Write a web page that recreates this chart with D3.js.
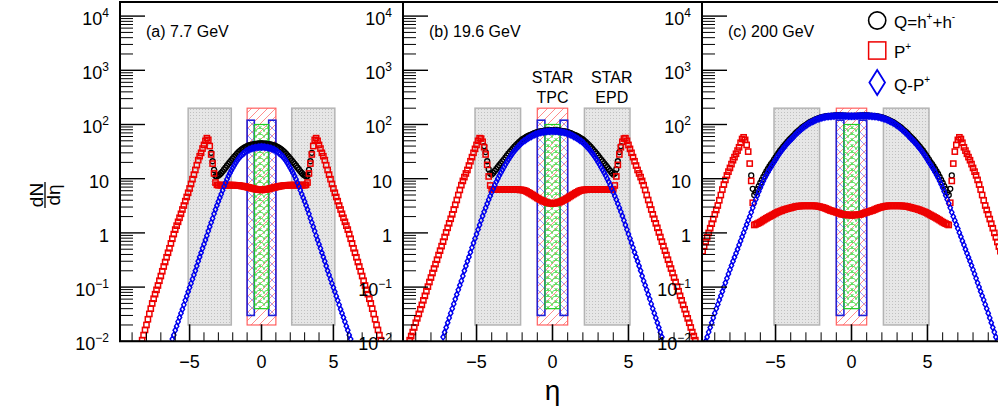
<!DOCTYPE html>
<html><head><meta charset="utf-8">
<script src="https://cdn.jsdelivr.net/npm/d3@7"></script>
<style>body{margin:0;background:#fff}svg{display:block}text{font-family:"Liberation Sans",Arial,Helvetica,sans-serif}</style>
</head><body><svg id="c" width="998" height="413"></svg>
<script>
// ---------------- data ----------------
const panelLabels = ["(a) 7.7 GeV", "(b) 19.6 GeV", "(c) 200 GeV"];
const etaStep = 0.1;
const etaMajorTicks = [-5, 0, 5];
const etaTickLabels = ["\u22125", "0", "5"];
const etaMinorTicks = [-9,-8,-7,-6,-4,-3,-2,-1,1,2,3,4,6,7,8,9];
const yTickExps = [-2, -1, 0, 1, 2, 3, 4];
const legendLabels = ["Q=h", "P", "Q-P"];
const epdEta = [[-5.1, -2.1], [2.1, 5.1]];
const epdY = [0.02, 200];
const tpcEta = [-1, 1];
const tpcY = [0.02, 200];
const blueBoxEta = [[-1, -0.5], [0.5, 1]];
const blueBoxY = [0.03, 120];
const greenBoxEta = [-0.5, 0.5];
const greenBoxY = [0.04, 100];

// first-bin eta of each series (Q, P+, Q-P+) per panel
const qStart = [-3.5, -4.5, -6.6];
const pStart = [-8.3, -9.4, -9.8];
const dStart = [-6.2, -7.2, -9.6];

// ---- 7.7 GeV ----
const p77 = [0.0105,0.013,0.0162,0.020,0.0255,0.032,0.040,0.050,0.061,0.074,
0.089,0.107,0.131,0.16,0.196,0.24,0.29,0.355,0.43,0.52,
0.64,0.78,0.95,1.15,1.36,1.6,1.9,2.25,2.7,3.2,
3.85,4.6,5.5,6.6,8.0,9.8,11.9,14.5,17.8,22,
26,30,36,42,50,56,52,40,28,19,
12.5,8.5,7.7,7.6,7.6,7.6,7.6,7.6,7.6,7.6,
7.6,7.6,7.6,7.6,7.6,7.55,7.52,7.5,7.43,7.35,
7.28,7.2,7.1,7.0,6.9,6.8,6.7,6.6,6.5,6.4,
6.35,6.3,6.25,
6.2,
6.25,6.3,6.35,
6.4,6.5,6.6,6.7,6.8,6.9,7.0,7.1,7.2,7.28,
7.35,7.43,7.5,7.52,7.55,7.6,7.6,7.6,7.6,7.6,
7.6,7.6,7.6,7.6,7.6,7.6,7.6,7.7,8.5,12.5,
19,28,40,52,56,50,42,36,30,26,
22,17.8,14.5,11.9,9.8,8.0,6.6,5.5,4.6,3.85,
3.2,2.7,2.25,1.9,1.6,1.36,1.15,0.95,0.78,0.64,
0.52,0.43,0.355,0.29,0.24,0.196,0.16,0.131,0.107,0.089,
0.074,0.061,0.050,0.040,0.032,0.0255,0.020,0.0162,0.013,0.0105];
const q77 = [30,21,14.5,11.2,11.1,11.4,12.0,12.8,13.7,14.8,
16.0,17.4,18.8,20.2,21.8,23.4,25.2,27,29,30.9,
32.7,34.4,35.9,37.2,38.7,40,41,41.8,42.5,43.1,
43.5,43.9,44.2,44.5,44.6,
44.7,
44.6,44.5,44.2,43.9,43.5,
43.1,42.5,41.8,41,40,38.7,37.2,35.9,34.4,32.7,
30.9,29,27,25.2,23.4,21.8,20.2,18.8,17.4,16.0,
14.8,13.7,12.8,12.0,11.4,11.1,11.2,14.5,21,30];
const d77 = [0.011,0.013,0.016,0.019,0.023,0.0275,0.033,0.039,0.047,0.057,
0.068,0.082,0.098,0.117,0.14,0.168,0.20,0.245,0.30,0.36,
0.43,0.52,0.62,0.74,0.89,1.08,1.3,1.55,1.85,2.25,
2.7,3.2,3.8,4.45,5.2,6.1,7.2,8.4,9.8,11.2,
12.6,14.2,15.8,17.6,19.5,21.5,23.4,25.3,27,28.6,
30,31.6,33,34,35,35.8,36.5,37,37.5,37.9,
38.2,38.4,
38.5,
38.4,38.2,
37.9,37.5,37,36.5,35.8,35,34,33,31.6,30,
28.6,27,25.3,23.4,21.5,19.5,17.6,15.8,14.2,12.6,
11.2,9.8,8.4,7.2,6.1,5.2,4.45,3.8,3.2,2.7,
2.25,1.85,1.55,1.3,1.08,0.89,0.74,0.62,0.52,0.43,
0.36,0.30,0.245,0.20,0.168,0.14,0.117,0.098,0.082,0.068,
0.057,0.047,0.039,0.033,0.0275,0.023,0.019,0.016,0.013,0.011];

// ---- 19.6 GeV ----
const p19 = [0.0105,0.0125,0.0148,0.018,0.022,0.0265,0.032,0.039,0.047,0.057,
0.069,0.084,0.102,0.124,0.15,0.182,0.22,0.265,0.32,0.39,
0.47,0.57,0.69,0.84,1.02,1.24,1.5,1.82,2.2,2.7,
3.3,4.05,5.0,6.2,7.6,9.1,10.7,12.5,14.5,17.5,
21,25,30,35.5,42,50,56,55,48,38,
28,18,11,7.5,6.4,6.3,6.3,6.3,6.3,6.3,
6.3,6.3,6.3,6.3,6.3,6.3,6.3,6.3,6.3,6.3,
6.3,6.3,6.25,6.22,6.2,6.1,6.0,5.8,5.6,5.4,
5.2,5.0,4.8,4.6,4.4,4.25,4.1,3.97,3.85,3.75,
3.65,3.6,3.55,3.52,
3.5,
3.52,3.55,3.6,3.65,
3.75,3.85,3.97,4.1,4.25,4.4,4.6,4.8,5.0,5.2,
5.4,5.6,5.8,6.0,6.1,6.2,6.22,6.25,6.3,6.3,
6.3,6.3,6.3,6.3,6.3,6.3,6.3,6.3,6.3,6.3,
6.3,6.3,6.3,6.3,6.3,6.4,7.5,11,18,28,
38,48,55,56,50,42,35.5,30,25,21,
17.5,14.5,12.5,10.7,9.1,7.6,6.2,5.0,4.05,3.3,
2.7,2.2,1.82,1.5,1.24,1.02,0.84,0.69,0.57,0.47,
0.39,0.32,0.265,0.22,0.182,0.15,0.124,0.102,0.084,0.069,
0.057,0.047,0.039,0.032,0.0265,0.022,0.018,0.0148,0.0125,0.0105];
const q19 = [40,31,21,15,12.5,11.9,12.8,13.9,15,16.3,
17.7,19.2,20.8,22.5,24.5,26.7,29,31.3,33.8,36.3,
39,41.8,44.4,47,50,52.9,55,57,59.4,61.6,
63.4,65.2,67.3,69.3,70.7,72,73.5,74.9,75.6,76.2,
76.9,77.6,78.1,78.5,78.8,
79,
78.8,78.5,78.1,77.6,76.9,
76.2,75.6,74.9,73.5,72,70.7,69.3,67.3,65.2,63.4,
61.6,59.4,57,55,52.9,50,47,44.4,41.8,39,
36.3,33.8,31.3,29,26.7,24.5,22.5,20.8,19.2,17.7,
16.3,15,13.9,12.8,11.9,12.5,15,21,31,40];
const d19 = [0.012,0.0147,0.018,0.022,0.027,0.033,0.040,0.049,0.060,0.073,
0.089,0.108,0.13,0.16,0.20,0.245,0.30,0.36,0.44,0.535,
0.65,0.79,0.95,1.15,1.4,1.7,2.05,2.45,2.9,3.45,
4.1,4.8,5.6,6.55,7.6,8.75,10,11.4,12.9,14.5,
16.2,18.2,20.4,22.6,25,27.5,30,32.7,35.5,38,
40.7,43.7,46.7,49,51,53.5,56,58,60,62.3,
64.5,66,67.6,69.2,70.8,71.6,72.4,73.2,74,74.5,
75,75.2,
75.3,
75.2,75,
74.5,74,73.2,72.4,71.6,70.8,69.2,67.6,66,64.5,
62.3,60,58,56,53.5,51,49,46.7,43.7,40.7,
38,35.5,32.7,30,27.5,25,22.6,20.4,18.2,16.2,
14.5,12.9,11.4,10,8.75,7.6,6.55,5.6,4.8,4.1,
3.45,2.9,2.45,2.05,1.7,1.4,1.15,0.95,0.79,0.65,
0.535,0.44,0.36,0.30,0.245,0.20,0.16,0.13,0.108,0.089,
0.073,0.060,0.049,0.040,0.033,0.027,0.022,0.018,0.0147,0.012];

// ---- 200 GeV ----
const p200 = [0.46,0.56,0.68,0.83,1.0,1.22,1.48,1.8,2.2,2.65,
3.2,4.0,5.0,6.3,7.8,9.5,11.5,13.5,15.8,18.6,
21.9,25,28.8,33,38,46,54,58,52,42,
31.6,19,9.1,3.6,1.4,1.44,1.48,1.53,1.58,1.65,
1.72,1.79,1.86,1.93,2.0,2.07,2.14,2.22,2.3,2.38,
2.45,2.51,2.57,2.64,2.7,2.75,2.8,2.85,2.9,2.95,
3.0,3.05,3.1,3.12,3.13,3.15,3.16,3.16,3.16,3.16,
3.16,3.16,3.16,3.16,3.15,3.13,3.1,3.05,3.0,2.95,
2.9,2.82,2.75,2.67,2.6,2.55,2.5,2.45,2.4,2.35,
2.3,2.25,2.2,2.18,2.16,2.15,2.14,2.13,
2.13,
2.13,2.14,2.15,2.16,2.18,2.2,2.25,2.3,
2.35,2.4,2.45,2.5,2.55,2.6,2.67,2.75,2.82,2.9,
2.95,3.0,3.05,3.1,3.13,3.15,3.16,3.16,3.16,3.16,
3.16,3.16,3.16,3.16,3.15,3.13,3.12,3.1,3.05,3.0,
2.95,2.9,2.85,2.8,2.75,2.7,2.64,2.57,2.51,2.45,
2.38,2.3,2.22,2.14,2.07,2.0,1.93,1.86,1.79,1.72,
1.65,1.58,1.53,1.48,1.44,1.4,3.6,9.1,19,31.6,
42,52,58,54,46,38,33,28.8,25,21.9,
18.6,15.8,13.5,11.5,9.5,7.8,6.3,5.0,4.0,3.2,
2.65,2.2,1.8,1.48,1.22,1.0,0.83,0.68,0.56,0.46];
const q200 = [11.5,6.5,5.0,5.6,6.4,7.3,8.4,9.5,10.8,12.2,
13.6,15.1,16.8,18.5,20.3,22.4,24.7,27.3,30,32.8,
35.6,38.6,41.7,45,48.5,51.9,55.4,59,63,67.5,
72,76.3,80.7,85.5,90.2,94.5,98.7,103,108,111.5,
115,119,123,126,129,132,135,137,139,141,
142.7,143.2,143.6,144.6,145.5,146.3,147,147,146.8,146.5,
146.2,145.7,145.2,144.7,144.1,144.1,
144.1,
144.1,144.1,144.7,145.2,145.7,146.2,
146.5,146.8,147,147,146.3,145.5,144.6,143.6,143.2,142.7,
141,139,137,135,132,129,126,123,119,115,
111.5,108,103,98.7,94.5,90.2,85.5,80.7,76.3,72,
67.5,63,59,55.4,51.9,48.5,45,41.7,38.6,35.6,
32.8,30,27.3,24.7,22.4,20.3,18.5,16.8,15.1,13.6,
12.2,10.8,9.5,8.4,7.3,6.4,5.6,5.0,6.5,11.5];
const d200 = [0.010,0.012,0.0148,0.018,0.022,0.027,0.033,0.040,0.048,0.058,
0.069,0.083,0.10,0.12,0.145,0.175,0.21,0.25,0.30,0.355,
0.42,0.50,0.60,0.71,0.85,1.01,1.2,1.43,1.7,2.0,
2.4,2.9,3.5,4.15,4.9,5.8,6.8,7.9,9.1,10.4,
11.7,13.2,14.8,16.4,18.2,20.2,22.4,24.9,27.5,30.2,
33,36,39,42.3,45.7,49,52.5,56,60,64.5,
69,73.2,77.6,82.2,87,91.2,95.5,100,105,108.5,
112,116,120,123,126,129,132,134,136,138,
140,140.5,141,142,143,143.8,144.5,144.5,144.5,144.3,
144,143.5,143,142.5,142,142,
142,
142,142,142.5,143,143.5,144,
144.3,144.5,144.5,144.5,143.8,143,142,141,140.5,140,
138,136,134,132,129,126,123,120,116,112,
108.5,105,100,95.5,91.2,87,82.2,77.6,73.2,69,
64.5,60,56,52.5,49,45.7,42.3,39,36,33,
30.2,27.5,24.9,22.4,20.2,18.2,16.4,14.8,13.2,11.7,
10.4,9.1,7.9,6.8,5.8,4.9,4.15,3.5,2.9,2.4,
2.0,1.7,1.43,1.2,1.01,0.85,0.71,0.60,0.50,0.42,
0.355,0.30,0.25,0.21,0.175,0.145,0.12,0.10,0.083,0.069,
0.058,0.048,0.040,0.033,0.027,0.022,0.018,0.0148,0.012,0.010];

const qSeries = [q77, q19, q200];
const pSeries = [p77, p19, p200];
const dSeries = [d77, d19, d200];

// ---------------- layout ----------------
const panelX = [[120, 403], [403, 702], [702, 1001]];
const yTop = 2, yBot = 341.3;
const etaDomain = [-9.84, 9.84];
const yDomain = [0.01, Math.pow(10, 4.26)];

const svg = d3.select("#c");
svg.append("rect").attr("width", 998).attr("height", 413).attr("fill", "#fff");
const defs = svg.append("defs");
function pat(id, w, h) {
  return defs.append("pattern").attr("id", id).attr("patternUnits", "userSpaceOnUse")
    .attr("width", w).attr("height", h);
}
const pd = pat("dots", 3, 3);
pd.append("rect").attr("width", 3).attr("height", 3).attr("fill", "#e6e6e6");
pd.append("rect").attr("x", 1).attr("y", 1).attr("width", 1).attr("height", 1).attr("fill", "#c0c0c0");
const pr = pat("hr", 8, 8);
pr.append("path").attr("d", "M0,8L8,0M-1,1L1,-1M7,9L9,7").attr("stroke", "#ff8080").attr("stroke-width", 0.9);
const pb = pat("hb", 8, 8);
pb.append("path").attr("d", "M0,0L8,8M-1,7L1,9M7,-1L9,1").attr("stroke", "#8c8cff").attr("stroke-width", 0.9);
const pgn = pat("hg", 8, 6);
pgn.append("path").attr("d", "M0,6A4,4 0 0 1 8,6M-4,3A4,4 0 0 1 4,3M4,3A4,4 0 0 1 12,3")
  .attr("fill", "none").attr("stroke", "#55e055").attr("stroke-width", 0.9);

const y = d3.scaleLog().domain(yDomain).range([yBot, yTop]);
const labelLayer = [];

panelX.forEach(([x0, x1], k) => {
  const x = d3.scaleLinear().domain(etaDomain).range([x0, x1]);
  defs.append("clipPath").attr("id", "clip" + k).append("rect")
    .attr("x", x0).attr("y", yTop).attr("width", x1 - x0).attr("height", yBot - yTop);
  const g = svg.append("g").attr("clip-path", `url(#clip${k})`);

  epdEta.forEach(([a, b]) => {
    g.append("rect").attr("x", x(a)).attr("y", y(epdY[1])).attr("width", x(b) - x(a))
      .attr("height", y(epdY[0]) - y(epdY[1])).attr("fill", "url(#dots)")
      .attr("stroke", "#b4b4b4").attr("stroke-width", 1.5);
  });
  g.append("rect").attr("x", x(tpcEta[0])).attr("y", y(tpcY[1])).attr("width", x(tpcEta[1]) - x(tpcEta[0]))
    .attr("height", y(tpcY[0]) - y(tpcY[1])).attr("fill", "url(#hr)")
    .attr("stroke", "#ff6060").attr("stroke-width", 1.2);
  blueBoxEta.forEach(([a, b]) => {
    g.append("rect").attr("x", x(a)).attr("y", y(blueBoxY[1])).attr("width", x(b) - x(a))
      .attr("height", y(blueBoxY[0]) - y(blueBoxY[1])).attr("fill", "url(#hb)")
      .attr("stroke", "#2020d8").attr("stroke-width", 1.6);
  });
  g.append("rect").attr("x", x(greenBoxEta[0])).attr("y", y(greenBoxY[1])).attr("width", x(greenBoxEta[1]) - x(greenBoxEta[0]))
    .attr("height", y(greenBoxY[0]) - y(greenBoxY[1])).attr("fill", "url(#hg)")
    .attr("stroke", "#22cc22").attr("stroke-width", 1.2);

  const toPts = (arr, s) => arr.map((v, i) => ({ eta: +(s + i * etaStep).toFixed(2), v }));
  const qP = toPts(qSeries[k], qStart[k]);
  const pP = toPts(pSeries[k], pStart[k]);
  const dP = toPts(dSeries[k], dStart[k]);

  g.selectAll(null).data(qP).join("circle")
    .attr("cx", d => x(d.eta)).attr("cy", d => y(d.v)).attr("r", 2.5)
    .attr("fill", "none").attr("stroke", "#000").attr("stroke-width", 1.3);
  g.selectAll(null).data(pP).join("rect")
    .attr("x", d => x(d.eta) - 2.6).attr("y", d => y(d.v) - 2.6).attr("width", 5.2).attr("height", 5.2)
    .attr("fill", "none").attr("stroke", "#ee0000").attr("stroke-width", 1.5);
  g.selectAll(null).data(dP).join("path")
    .attr("d", d => { const cx = x(d.eta), cy = y(d.v); return `M${cx},${cy - 3}L${cx + 2.2},${cy}L${cx},${cy + 3}L${cx - 2.2},${cy}Z`; })
    .attr("fill", "none").attr("stroke", "#0000ee").attr("stroke-width", 1.4);

  const ax = svg.append("g");
  etaMinorTicks.forEach(t => ax.append("line").attr("x1", x(t)).attr("x2", x(t)).attr("y1", yBot).attr("y2", yBot - 9)
    .attr("stroke", "#000").attr("stroke-width", 1));
  etaMajorTicks.forEach((t, i) => {
    ax.append("line").attr("x1", x(t)).attr("x2", x(t)).attr("y1", yBot).attr("y2", yBot - 17)
      .attr("stroke", "#000").attr("stroke-width", 1.6);
    labelLayer.push({ kind: "x", x: x(t), text: etaTickLabels[i] });
  });
  for (let e = -2; e <= 3; e++) {
    for (let m = 2; m <= 9; m++) {
      const v = m * Math.pow(10, e);
      ax.append("line").attr("x1", x0).attr("x2", x0 + 13).attr("y1", y(v)).attr("y2", y(v))
        .attr("stroke", "#000").attr("stroke-width", 1);
    }
  }
  yTickExps.forEach(e => {
    const v = Math.pow(10, e);
    ax.append("line").attr("x1", x0).attr("x2", x0 + 25).attr("y1", y(v)).attr("y2", y(v))
      .attr("stroke", "#000").attr("stroke-width", 1.4);
    labelLayer.push({ kind: "y", x: x0 - 11, y: y(v), e });
  });
  ax.append("line").attr("x1", x0).attr("x2", x0).attr("y1", yTop).attr("y2", yBot)
    .attr("stroke", "#000").attr("stroke-width", 2);
  svg.append("text").attr("x", x0 + 26).attr("y", 37).attr("font-size", 16).text(panelLabels[k]);
});

svg.append("line").attr("x1", 119).attr("x2", 998).attr("y1", yTop).attr("y2", yTop).attr("stroke", "#000").attr("stroke-width", 2);
svg.append("line").attr("x1", 119).attr("x2", 998).attr("y1", yBot).attr("y2", yBot).attr("stroke", "#000").attr("stroke-width", 2);

labelLayer.forEach(L => {
  if (L.kind === "x") {
    svg.append("text").attr("x", L.x).attr("y", 368).attr("text-anchor", "middle").attr("font-size", 18).text(L.text);
  } else {
    const t = svg.append("text").attr("x", L.x).attr("y", L.y + 9).attr("text-anchor", "end").attr("font-size", 18);
    if (L.e === 0) t.text("1");
    else if (L.e === 1) t.text("10");
    else {
      t.append("tspan").text("10");
      t.append("tspan").attr("dy", -8).attr("font-size", 12).text(L.e < 0 ? "\u2212" + (-L.e) : String(L.e));
    }
  }
});

{
  const x2 = d3.scaleLinear().domain(etaDomain).range(panelX[1]);
  const ann = [[0, "STAR", "TPC"], [3.9, "STAR", "EPD"]];
  ann.forEach(([e, a, b]) => {
    svg.append("text").attr("x", x2(e)).attr("y", 83).attr("text-anchor", "middle").attr("font-size", 16).text(a);
    svg.append("text").attr("x", x2(e)).attr("y", 103).attr("text-anchor", "middle").attr("font-size", 16).text(b);
  });
  svg.append("text").attr("x", x2(0)).attr("y", 400).attr("text-anchor", "middle").attr("font-size", 28).text("\u03b7");
}

{
  const g = svg.append("g").attr("transform", "translate(45,195) rotate(-90)");
  g.append("text").attr("x", 0).attr("y", -2.5).attr("text-anchor", "middle").attr("font-size", 19).text("dN");
  g.append("line").attr("x1", -13).attr("x2", 13).attr("y1", 0).attr("y2", 0).attr("stroke", "#000").attr("stroke-width", 1.3);
  g.append("text").attr("x", 0).attr("y", 14.5).attr("text-anchor", "middle").attr("font-size", 19).text("d\u03b7");
}

{
  const lx = 877.2, tx = 894;
  svg.append("circle").attr("cx", lx).attr("cy", 20.5).attr("r", 8.6).attr("fill", "none").attr("stroke", "#000").attr("stroke-width", 1.6);
  svg.append("rect").attr("x", lx - 8.6).attr("y", 50.5 - 8.6).attr("width", 17.2).attr("height", 17.2).attr("fill", "none").attr("stroke", "#ee0000").attr("stroke-width", 1.5);
  svg.append("path").attr("d", `M${lx},70L${lx + 7.8},82.5L${lx},95L${lx - 7.8},82.5Z`).attr("fill", "none").attr("stroke", "#0000ee").attr("stroke-width", 1.8);
  const t1 = svg.append("text").attr("x", tx).attr("y", 28).attr("font-size", 17);
  t1.append("tspan").text(legendLabels[0]);
  t1.append("tspan").attr("dy", -8).attr("font-size", 10).text("+");
  t1.append("tspan").attr("dy", 8).text("+h");
  t1.append("tspan").attr("dy", -8).attr("font-size", 10).text("-");
  const t2 = svg.append("text").attr("x", tx).attr("y", 58).attr("font-size", 17);
  t2.append("tspan").text(legendLabels[1]);
  t2.append("tspan").attr("dy", -8).attr("font-size", 10).text("+");
  const t3 = svg.append("text").attr("x", tx).attr("y", 90.5).attr("font-size", 17);
  t3.append("tspan").text(legendLabels[2]);
  t3.append("tspan").attr("dy", -8).attr("font-size", 10).text("+");
}
</script></body></html>
